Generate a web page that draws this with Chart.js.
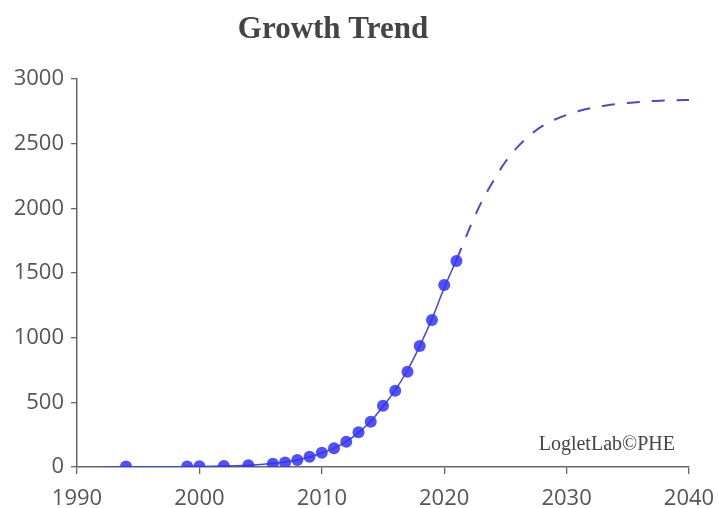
<!DOCTYPE html>
<html>
<head>
<meta charset="utf-8">
<script src="https://cdn.jsdelivr.net/npm/chart.js@4/dist/chart.umd.min.js"></script>
<style>
html,body{margin:0;padding:0;background:#fff;}
#wrap{width:719px;height:508px;}
</style>
</head>
<body>
<div id="wrap"><canvas id="c" width="719" height="508"></canvas></div>
<script>
// ---- data ----
const titleText = "Growth Trend";
const creditText = "LogletLab\u00A9PHE";

const obsYears  = [1994, 1999, 2000, 2002, 2004, 2006, 2007, 2008, 2009, 2010, 2011, 2012, 2013, 2014, 2015, 2016, 2017, 2018, 2019, 2020, 2021];
const obsValues = [3, 4, 5, 7, 14, 25, 35, 54, 80, 110, 145, 196, 268, 350, 474, 590, 737, 936, 1137, 1408, 1593];

const fitYears  = [1992, 1994, 1996, 1998, 1999, 2000, 2001, 2002, 2003, 2004, 2005, 2006, 2007, 2008, 2009, 2010, 2011, 2012, 2013, 2014, 2015, 2016, 2017, 2018, 2019, 2020, 2021];
const fitValues = [0, 1, 1, 2, 3, 4, 5, 7, 10, 14, 20, 27, 38, 54, 77, 108, 146, 197, 266, 354, 468, 595, 748, 935, 1145, 1385, 1600];

const forecastYears  = [2021, 2022, 2023, 2024, 2025, 2026, 2027, 2028, 2029, 2030, 2031, 2032, 2033, 2034, 2035, 2036, 2037, 2038, 2039, 2040];
const forecastValues = [1600, 1830, 2040, 2210, 2360, 2475, 2565, 2635, 2685, 2722, 2752, 2775, 2792, 2805, 2815, 2823, 2829, 2833, 2836, 2838];

const xTicks = [1990, 2000, 2010, 2020, 2030, 2040];
const yTicks = [0, 500, 1000, 1500, 2000, 2500, 3000];

// ---- build library structures ----
const toXY = (xs, ys) => xs.map((x, i) => ({x: x, y: ys[i]}));

const textPlugin = {
  id: 'texts',
  afterDraw(chart) {
    const ctx = chart.ctx;
    const a = chart.chartArea;
    ctx.save();
    ctx.fillStyle = '#444';
    ctx.font = 'bold 31px "Liberation Serif", serif';
    ctx.textAlign = 'center';
    ctx.textBaseline = 'alphabetic';
    ctx.fillText(titleText, 333, 38);
    ctx.fillStyle = '#444';
    ctx.font = '20px "Liberation Serif", serif';
    ctx.textAlign = 'right';
    ctx.fillText(creditText, a.right - 14, a.bottom - 17);
    ctx.restore();
  }
};

new Chart(document.getElementById('c'), {
  type: 'line',
  data: {
    datasets: [
      {
        label: 'Observed',
        data: toXY(obsYears, obsValues),
        showLine: false,
        pointRadius: 6,
        pointHoverRadius: 6,
        pointBackgroundColor: 'rgba(50,50,245,0.85)',
        pointBorderWidth: 0,
        order: 0
      },
      {
        label: 'Fit',
        data: toXY(fitYears, fitValues),
        borderColor: '#4646d6',
        borderWidth: 1.5,
        pointRadius: 0,
        cubicInterpolationMode: 'monotone',
        fill: false,
        order: 1
      },
      {
        label: 'Forecast',
        data: toXY(forecastYears, forecastValues),
        borderColor: '#4a4ac4',
        borderWidth: 2,
        borderDash: [13, 12],
        pointRadius: 0,
        cubicInterpolationMode: 'monotone',
        fill: false,
        order: 1
      }
    ]
  },
  options: {
    responsive: false,
    animation: false,
    devicePixelRatio: 1,
    layout: { padding: { top: 79, right: 30, left: 0, bottom: 0 } },
    plugins: {
      legend: { display: false },
      title: { display: false },
      tooltip: { enabled: false }
    },
    scales: {
      x: {
        type: 'linear',
        min: xTicks[0],
        max: xTicks[xTicks.length - 1],
        afterBuildTicks(scale) { scale.ticks = xTicks.map(v => ({value: v})); },
        afterFit(scale) { scale.height = 41; scale.paddingRight = 0; scale.paddingLeft = 0; },
        grid: { display: true, drawOnChartArea: false, drawTicks: true, tickLength: 7, color: '#666', lineWidth: 1.3 },
        border: { display: true, color: '#666', width: 1.5 },
        ticks: {
          color: '#555',
          font: { family: '"Open Sans", sans-serif', size: 22 },
          padding: 12,
          maxRotation: 0,
          callback: v => String(v)
        }
      },
      y: {
        type: 'linear',
        min: yTicks[0],
        max: yTicks[yTicks.length - 1],
        afterBuildTicks(scale) { scale.ticks = yTicks.map(v => ({value: v})); },
        afterFit(scale) { scale.width = 77; },
        grid: { display: true, drawOnChartArea: false, drawTicks: true, tickLength: 6, color: '#666', lineWidth: 1.3 },
        border: { display: true, color: '#666', width: 1.5 },
        ticks: {
          color: '#555',
          font: { family: '"Open Sans", sans-serif', size: 22 },
          padding: 7,
          callback: v => String(v)
        }
      }
    }
  },
  plugins: [textPlugin]
});
</script>
</body>
</html>
